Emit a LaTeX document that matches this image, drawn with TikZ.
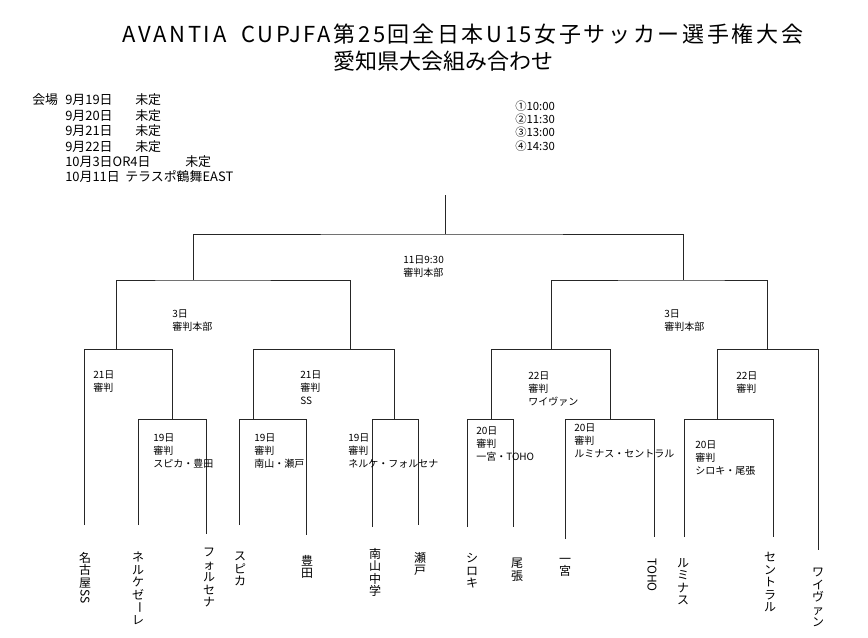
\documentclass[tikz,border=0pt]{standalone}
\usepackage{fontspec}
\setmainfont{Noto Sans CJK JP}
\newfontfamily\titlefont[LetterSpace=12]{Noto Sans CJK JP}
\usepackage{graphicx}
\usepackage{tikz}
\newcommand{\uprot}[1]{\raisebox{0.85em}{\rotatebox{-90}{#1}}}
\tikzset{
    bracket/.style={line width=0.6pt, black!85},
    title/.style={font=\fontsize{16.5}{20}\selectfont, inner sep=0pt},
    venue/.style={anchor=west, font=\fontsize{9.7}{12}\selectfont, inner sep=0pt},
    kickoff/.style={anchor=west, font=\fontsize{8.5}{10}\selectfont, inner sep=0pt},
    match/.style={anchor=north west, align=left, font=\fontsize{7.5}{9.75}\selectfont, inner sep=0pt},
    team/.style={anchor=north, align=center, font=\fontsize{9}{9.4}\selectfont, inner sep=0pt}
}

\begin{document}
\begin{tikzpicture}[x=0.75pt, y=-0.75pt]
    \useasboundingbox (0,0) rectangle (868,637);
    % Title
    \node[title] (title1) at (463,34) {\titlefont AVANTIA\ \ CUPJFA第25回全日本U15女子サッカー選手権大会};
    \node[title] (title2) at (443,61) {愛知県大会組み合わせ};
    % Venues
    \node[venue] (vhead) at (32,100) {会場};
    \node[venue] (v1) at (65,100) {9月19日};
    \node[venue] (v2) at (65,116) {9月20日};
    \node[venue] (v3) at (65,131) {9月21日};
    \node[venue] (v4) at (65,147) {9月22日};
    \node[venue] (v5) at (65,162) {10月3日OR4日};
    \node[venue] (v6) at (65,177) {10月11日};
    \node[venue] (p1) at (135,100) {未定};
    \node[venue] (p2) at (135,116) {未定};
    \node[venue] (p3) at (135,131) {未定};
    \node[venue] (p4) at (135,147) {未定};
    \node[venue] (p5) at (185,162) {未定};
    \node[venue] (p6) at (125,177) {テラスポ鶴舞EAST};
    % Kick-off times
    \node[kickoff] (k1) at (515,106) {①10:00};
    \node[kickoff] (k2) at (515,119) {②11:30};
    \node[kickoff] (k3) at (515,132) {③13:00};
    \node[kickoff] (k4) at (515,146) {④14:30};
    % Bracket joints
    \coordinate (top) at (445,195);
    \coordinate (fin) at (445,234);
    \coordinate (sf1) at (193,280);
    \coordinate (sf2) at (683,280);
    \coordinate (qf1) at (116,349);
    \coordinate (qf2) at (350,349);
    \coordinate (qf3) at (551,349);
    \coordinate (qf4) at (767,349);
    \coordinate (r1a) at (172,419);
    \coordinate (r1b) at (253,419);
    \coordinate (r1c) at (394,419);
    \coordinate (r1d) at (491,419);
    \coordinate (r1e) at (610,419);
    \coordinate (r1f) at (717,419);
    % Team line ends
    \coordinate (e1) at (84,525);
    \coordinate (e2) at (138,525);
    \coordinate (e3) at (206,534);
    \coordinate (e4) at (239,525);
    \coordinate (e5) at (306,535);
    \coordinate (e6) at (372,527);
    \coordinate (e7) at (418,525);
    \coordinate (e8) at (467,527);
    \coordinate (e9) at (513,527);
    \coordinate (e10) at (565,539);
    \coordinate (e11) at (654,537);
    \coordinate (e12) at (684,537);
    \coordinate (e13) at (773,537);
    \coordinate (e14) at (818,550);
    % Teams
    \node[team] (t1) at (85,552) {名\\古\\屋\\\uprot{SS}};
    \node[team] (t2) at (138,552) {ネ\\ル\\ケ\\ゼ\\\uprot{ー}\\レ};
    \node[team] (t3) at (209,548) {フ\\ォ\\ル\\セ\\ナ};
    \node[team] (t4) at (240,552) {ス\\ピ\\カ};
    \node[team] (t5) at (307,555) {豊\\田};
    \node[team] (t6) at (375,548) {南\\山\\中\\学};
    \node[team] (t7) at (420,552) {瀬\\戸};
    \node[team] (t8) at (472,553) {シ\\ロ\\キ};
    \node[team] (t9) at (517,558) {尾\\張};
    \node[team] (t10) at (565,558) {一\\宮};
    \node[team] (t11) at (652,558) {\uprot{TOHO}};
    \node[team] (t12) at (683,558) {ル\\ミ\\ナ\\ス};
    \node[team] (t13) at (770,552) {セ\\ン\\ト\\ラ\\ル};
    \node[team] (t14) at (818,568) {ワ\\イ\\ヴ\\ァ\\ン};
    % First round
    \draw[bracket] (e2) |- (r1a) -| (e3);
    \draw[bracket] (e4) |- (r1b) -| (e5);
    \draw[bracket] (e6) |- (r1c) -| (e7);
    \draw[bracket] (e8) |- (r1d) -| (e9);
    \draw[bracket] (e10) |- (r1e) -| (e11);
    \draw[bracket] (e12) |- (r1f) -| (e13);
    % Quarter finals
    \draw[bracket] (e1) |- (qf1) -| (r1a);
    \draw[bracket] (r1b) |- (qf2) -| (r1c);
    \draw[bracket] (r1d) |- (qf3) -| (r1e);
    \draw[bracket] (r1f) |- (qf4) -| (e14);
    % Semi finals and final
    \draw[bracket] (qf1) |- (sf1) -| (qf2);
    \draw[bracket] (qf3) |- (sf2) -| (qf4);
    \draw[bracket] (sf1) |- (fin) -| (sf2);
    \draw[bracket] (fin) -- (top);
    % Match notes
    \node[match] (mfin) at (403,256) {11日9:30\\審判本部};
    \node[match] (msf1) at (172,310) {3日\\審判本部};
    \node[match] (msf2) at (664,310) {3日\\審判本部};
    \node[match] (mqf1) at (93,371) {21日\\審判};
    \node[match] (mqf2) at (300,371) {21日\\審判\\SS};
    \node[match] (mqf3) at (528,372) {22日\\審判\\ワイヴァン};
    \node[match] (mqf4) at (736,372) {22日\\審判};
    \node[match] (mr1a) at (153,434) {19日\\審判\\スピカ・豊田};
    \node[match] (mr1b) at (254,434) {19日\\審判\\南山・瀬戸};
    \node[match] (mr1c) at (348,434) {19日\\審判\\ネルケ・フォルセナ};
    \node[match] (mr1d) at (476,427) {20日\\審判\\一宮・TOHO};
    \node[match] (mr1e) at (574,424) {20日\\審判\\ルミナス・セントラル};
    \node[match] (mr1f) at (695,441) {20日\\審判\\シロキ・尾張};
\end{tikzpicture}
\end{document}
